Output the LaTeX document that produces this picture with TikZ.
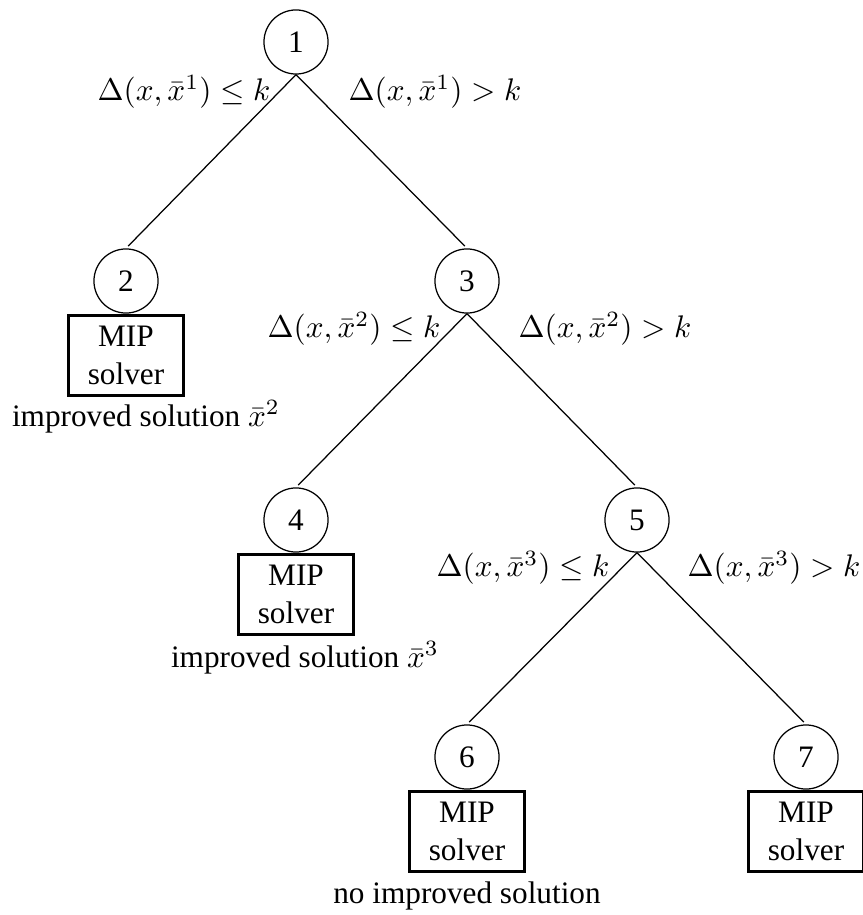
\documentclass[tikz,border=0pt]{standalone}
\usepackage{amsmath, amssymb}
\usepackage{fontspec}
\setmainfont{Liberation Serif}
\usepackage{tikz}
\usetikzlibrary{positioning, calc}
\tikzset{
    treenode/.style={
        circle,
        draw=black,
        line width=0.4pt,
        minimum size=20.5pt,
        inner sep=0pt
    },
    solverbox/.style={
        rectangle,
        draw=black,
        line width=1pt,
        minimum width=37pt,
        minimum height=25.6pt,
        inner sep=1pt,
        align=center
    },
    branch/.style={
        line width=0.4pt,
        shorten >=1pt
    },
    cond/.style={
        inner sep=0pt
    },
    outcome/.style={
        inner sep=0pt
    }
}

\begin{document}
\begin{tikzpicture}[x=0.32pt,y=-0.32pt]
      \useasboundingbox (0,0) rectangle (863,915);

      % tree nodes
      \node[treenode] (n1) at (296,42) {1};
      \node[treenode] (n2) at (126,281) {2};
      \node[treenode] (n3) at (467,281) {3};
      \node[treenode] (n4) at (296,520) {4};
      \node[treenode] (n5) at (637,520) {5};
      \node[treenode] (n6) at (467,757) {6};
      \node[treenode] (n7) at (806,757) {7};

      % solver boxes
      \node[solverbox,below=0pt of n2] (s2) {MIP\\solver};
      \node[solverbox,below=0pt of n4] (s4) {MIP\\solver};
      \node[solverbox,below=0pt of n6] (s6) {MIP\\solver};
      \node[solverbox,below=0pt of n7] (s7) {MIP\\solver};

      % branches
      \draw[branch] (n1.south) -- (n2.north);
      \draw[branch] (n1.south) -- (n3.north);
      \draw[branch] (n3.south) -- (n4.north);
      \draw[branch] (n3.south) -- (n5.north);
      \draw[branch] (n5.south) -- (n6.north);
      \draw[branch] (n5.south) -- (n7.north);

      % branching conditions
      \node[cond] (c12) at ($(n1)+(-112,50)$) {$\Delta(x,\bar{x}^1) \le k$};
      \node[cond] (c13) at ($(n1)+(139,50)$) {$\Delta(x,\bar{x}^1) > k$};
      \node[cond] (c34) at ($(n3)+(-113,48)$) {$\Delta(x,\bar{x}^2) \le k$};
      \node[cond] (c35) at ($(n3)+(138,48)$) {$\Delta(x,\bar{x}^2) > k$};
      \node[cond] (c56) at ($(n5)+(-114,48)$) {$\Delta(x,\bar{x}^3) \le k$};
      \node[cond] (c57) at ($(n5)+(137,48)$) {$\Delta(x,\bar{x}^3) > k$};

      % outcomes
      \node[outcome] (r2) at ($(s2.south)+(20,20)$) {improved solution $\bar{x}^2$};
      \node[outcome] (r4) at ($(s4.south)+(9,22)$) {improved solution $\bar{x}^3$};
      \node[outcome] (r6) at ($(s6.south)+(0,23)$) {no improved solution};

    \end{tikzpicture}
\end{document}
